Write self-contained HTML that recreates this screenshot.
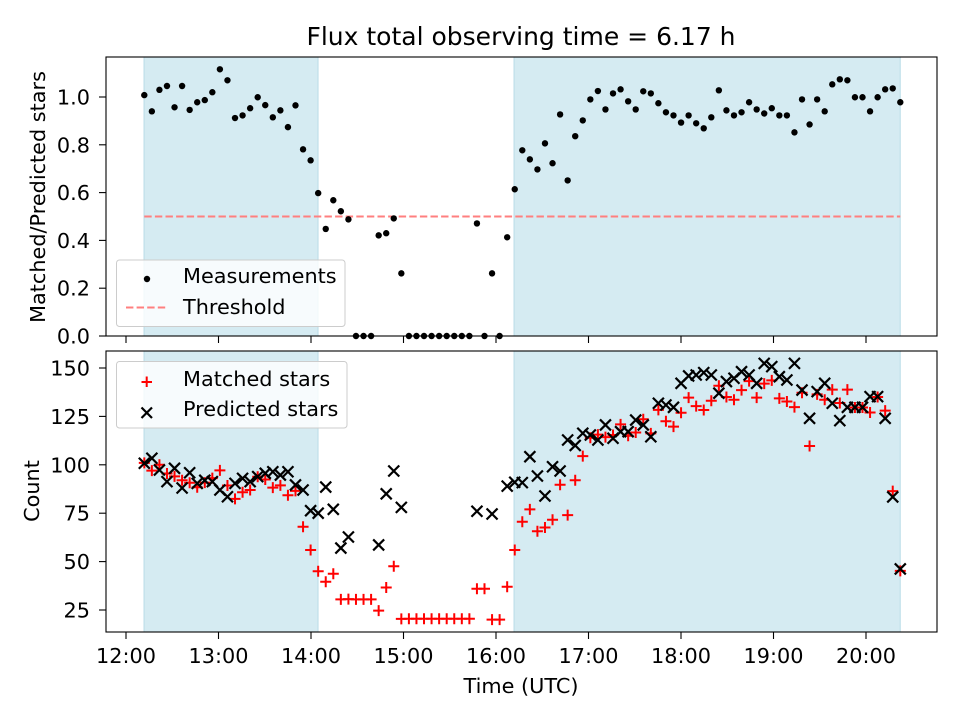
<!DOCTYPE html>
<html><head><meta charset="utf-8"><style>
body{margin:0;background:#fff}
svg{display:block;font-family:"DejaVu Sans","Liberation Sans",sans-serif}
</style></head><body>
<svg id="chart" width="960" height="720" viewBox="0 0 960 720" xmlns="http://www.w3.org/2000/svg">
<rect width="960" height="720" fill="#fff"/>
<text x="521" y="45" font-size="25" text-anchor="middle">Flux total observing time = 6.17 h</text>
<text transform="translate(45,197) rotate(-90)" font-size="20.8" text-anchor="middle">Matched/Predicted stars</text>
<text transform="translate(39,491) rotate(-90)" font-size="20.8" text-anchor="middle">Count</text>
<text x="521" y="693" font-size="20.8" text-anchor="middle">Time (UTC)</text>
<g id="topPanel"></g>
<g id="botPanel"></g>
</svg>
<script>
const startHour = 12.1978;
const stepHour = 0.08173;
const ratioValues = [1.008,0.94,1.03,1.046,0.957,1.046,0.946,0.978,0.987,1.02,1.116,1.07,0.912,0.923,0.953,0.999,0.966,0.915,0.944,0.874,0.965,0.781,0.735,0.598,0.448,0.568,0.522,0.488,0,0,0,0.421,0.43,0.492,0.262,0,0,0,0,0,0,0,0,0,0.471,0,0.262,0,0.413,0.614,0.777,0.739,0.697,0.806,0.723,0.927,0.651,0.836,0.902,0.99,1.025,0.948,1.015,1.032,0.982,0.948,1.024,1.015,0.974,0.936,0.923,0.893,0.923,0.89,0.869,0.915,1.028,0.944,0.923,0.936,0.978,0.948,0.931,0.953,0.923,0.923,0.852,0.99,0.885,0.99,0.94,1.053,1.074,1.07,0.999,0.999,0.94,0.999,1.032,1.036,0.978];
const matchedValues = [101,97,100,95.5,94,92,90.7,88.4,90.8,93.1,97.1,89.3,82.4,85.8,87,93.8,92.4,88.2,89.4,84.3,86.5,68,56,45,39.6,43.7,30.5,30.6,30.5,30.5,30.5,24.7,36.6,47.6,20.4,20.5,20.5,20.5,20.5,20.5,20.5,20.5,20.5,20.5,36,36,20,20,37,56,70.6,77,65.7,67.6,71.6,89.7,74,92,104.5,114,115.6,114.3,115.4,120.9,115,116.7,123.5,116.2,128.4,122.5,119.7,126.9,134.7,130.3,128.3,133.1,140.8,135,133.6,138.6,143.2,134.7,141.9,143.6,134.3,132.7,129.8,137.2,109.7,136.4,133.6,138.8,131.9,138.8,129.6,129.6,127,135,128,86.4,45.2];
const predictedValues = [100.8,103.4,97.3,91.3,98.2,88,95.9,90.4,92,91.3,87,83.5,90.4,93,91.3,93.9,95.6,96.4,94.7,96.4,89.6,87,76.3,75,88.5,77,57,62.7,null,null,null,58.6,85,96.8,78,null,null,null,null,null,null,null,null,null,76,null,74.6,null,89,91,90.8,104.2,94.2,83.9,99,96.8,112.8,110,116.3,115.4,112.8,120.6,113.7,117.1,117.1,123.1,120.6,114.5,131.8,130.9,129.7,142.1,145.9,146.4,147.6,146.4,137,143,144.7,148.1,146.4,142.1,152.4,150.7,145.5,143.8,152.4,138.6,124,137.8,142.1,131.8,122.8,129.7,129.7,129.7,135.2,135.2,124,83.4,46.2];
const spans = [[12.195,14.076],[16.195,20.37]];
const threshold = 0.5;
const xTicks = [12,13,14,15,16,17,18,19,20];
const xTickLabels = ["12:00","13:00","14:00","15:00","16:00","17:00","18:00","19:00","20:00"];
const topTicks = [0,0.2,0.4,0.6,0.8,1.0];
const topTickLabels = ["0.0","0.2","0.4","0.6","0.8","1.0"];
const botTicks = [25,50,75,100,125,150];
const botTickLabels = ["25","50","75","100","125","150"];

const NS="http://www.w3.org/2000/svg";
const L=106,R=937,T1=57,B1=336,T2=351,B2=632;
const xs=t=>126+(t-12)*92.5;
const y1=v=>336-v*239;
const y2=v=>610-(v-25)*1.936;
function mk(tag,attrs,parent,txt){const e=document.createElementNS(NS,tag);for(const k in attrs)e.setAttribute(k,attrs[k]);if(txt!==undefined)e.textContent=txt;parent.appendChild(e);return e;}
const topG=document.getElementById('topPanel'),botG=document.getElementById('botPanel');
const times=ratioValues.map((_,i)=>startHour+i*stepHour);

function panel(g,T,B,name){
  spans.forEach((s,k)=>{const r=mk('rect',{x:xs(s[0]),y:T,width:xs(s[1])-xs(s[0]),height:B-T,fill:'#d5ebf2',stroke:'#b9dce7','stroke-width':1},g);
    
    });
}
panel(topG,T1,B1,'top');panel(botG,T2,B2,'bottom');

const th=mk('line',{x1:xs(times[0]),x2:xs(times[times.length-1]),y1:y1(threshold),y2:y1(threshold),stroke:'#ff7f7f','stroke-width':2,'stroke-dasharray':'7.4,3.2'},topG);



ratioValues.forEach((v,i)=>{const c=mk('circle',{cx:xs(times[i]),cy:y1(v),r:3.2,fill:'#000'},topG);
  
  });

matchedValues.forEach((v,i)=>{if(v==null)return;const x=xs(times[i]),y=y2(v);
  const p=mk('path',{d:`M${x-5.5},${y}H${x+5.5}M${x},${y-5.5}V${y+5.5}`,stroke:'#f00','stroke-width':2,fill:'none'},botG);
  
  });
predictedValues.forEach((v,i)=>{if(v==null)return;const x=xs(times[i]),y=y2(v);
  const p=mk('path',{d:`M${x-5.5},${y-5.5}L${x+5.5},${y+5.5}M${x-5.5},${y+5.5}L${x+5.5},${y-5.5}`,stroke:'#000','stroke-width':2.2,fill:'none'},botG);
  
  });

function axes(g,T,B,ticks,labels,ys,showX,name){
  const f=mk('rect',{x:L,y:T,width:R-L,height:B-T,fill:'none',stroke:'#000','stroke-width':1.1},g);
  
  
  ticks.forEach((v,i)=>{const y=ys(v);mk('line',{x1:L-7,x2:L,y1:y,y2:y,stroke:'#000','stroke-width':1.1},g);
    const t=mk('text',{x:L-16,y:y+7.5,'font-size':20.8,'text-anchor':'end'},g,labels[i]);
    
    });
  xTicks.forEach((v,i)=>{const x=xs(v);mk('line',{x1:x,x2:x,y1:B,y2:B+7,stroke:'#000','stroke-width':1.1},g);
    if(showX){const t=mk('text',{x:x,y:B+31,'font-size':20.8,'text-anchor':'middle'},g,xTickLabels[i]);
      
      }});
}
axes(topG,T1,B1,topTicks,topTickLabels,y1,false,'top');
axes(botG,T2,B2,botTicks,botTickLabels,y2,true,'bottom');

function legend(g,x,y,w,h,name){const r=mk('rect',{x:x,y:y,width:w,height:h,rx:3,fill:'rgba(255,255,255,0.8)',stroke:'#ccc','stroke-width':1},g);
  
  }
legend(topG,116.5,260,228.5,66.5,'top-legend');
mk('circle',{cx:147,cy:279,r:3.2,fill:'#000'},topG);
let t=mk('text',{x:183,y:283,'font-size':20.8},topG,'Measurements');


mk('line',{x1:126,x2:167,y1:307.5,y2:307.5,stroke:'#ff7f7f','stroke-width':2,'stroke-dasharray':'7.4,3.2'},topG);
t=mk('text',{x:183,y:314,'font-size':20.8},topG,'Threshold');



legend(botG,116.5,361.5,230.5,66.5,'bottom-legend');
mk('path',{d:'M141.5,382H152M146.7,376.5V387',stroke:'#f00','stroke-width':2},botG);
t=mk('text',{x:183,y:386,'font-size':20.8},botG,'Matched stars');


mk('path',{d:'M141.5,407.5L152,418M141.5,418L152,407.5',stroke:'#000','stroke-width':2.2},botG);
t=mk('text',{x:183,y:416,'font-size':20.8},botG,'Predicted stars');


</script>
</body></html>
